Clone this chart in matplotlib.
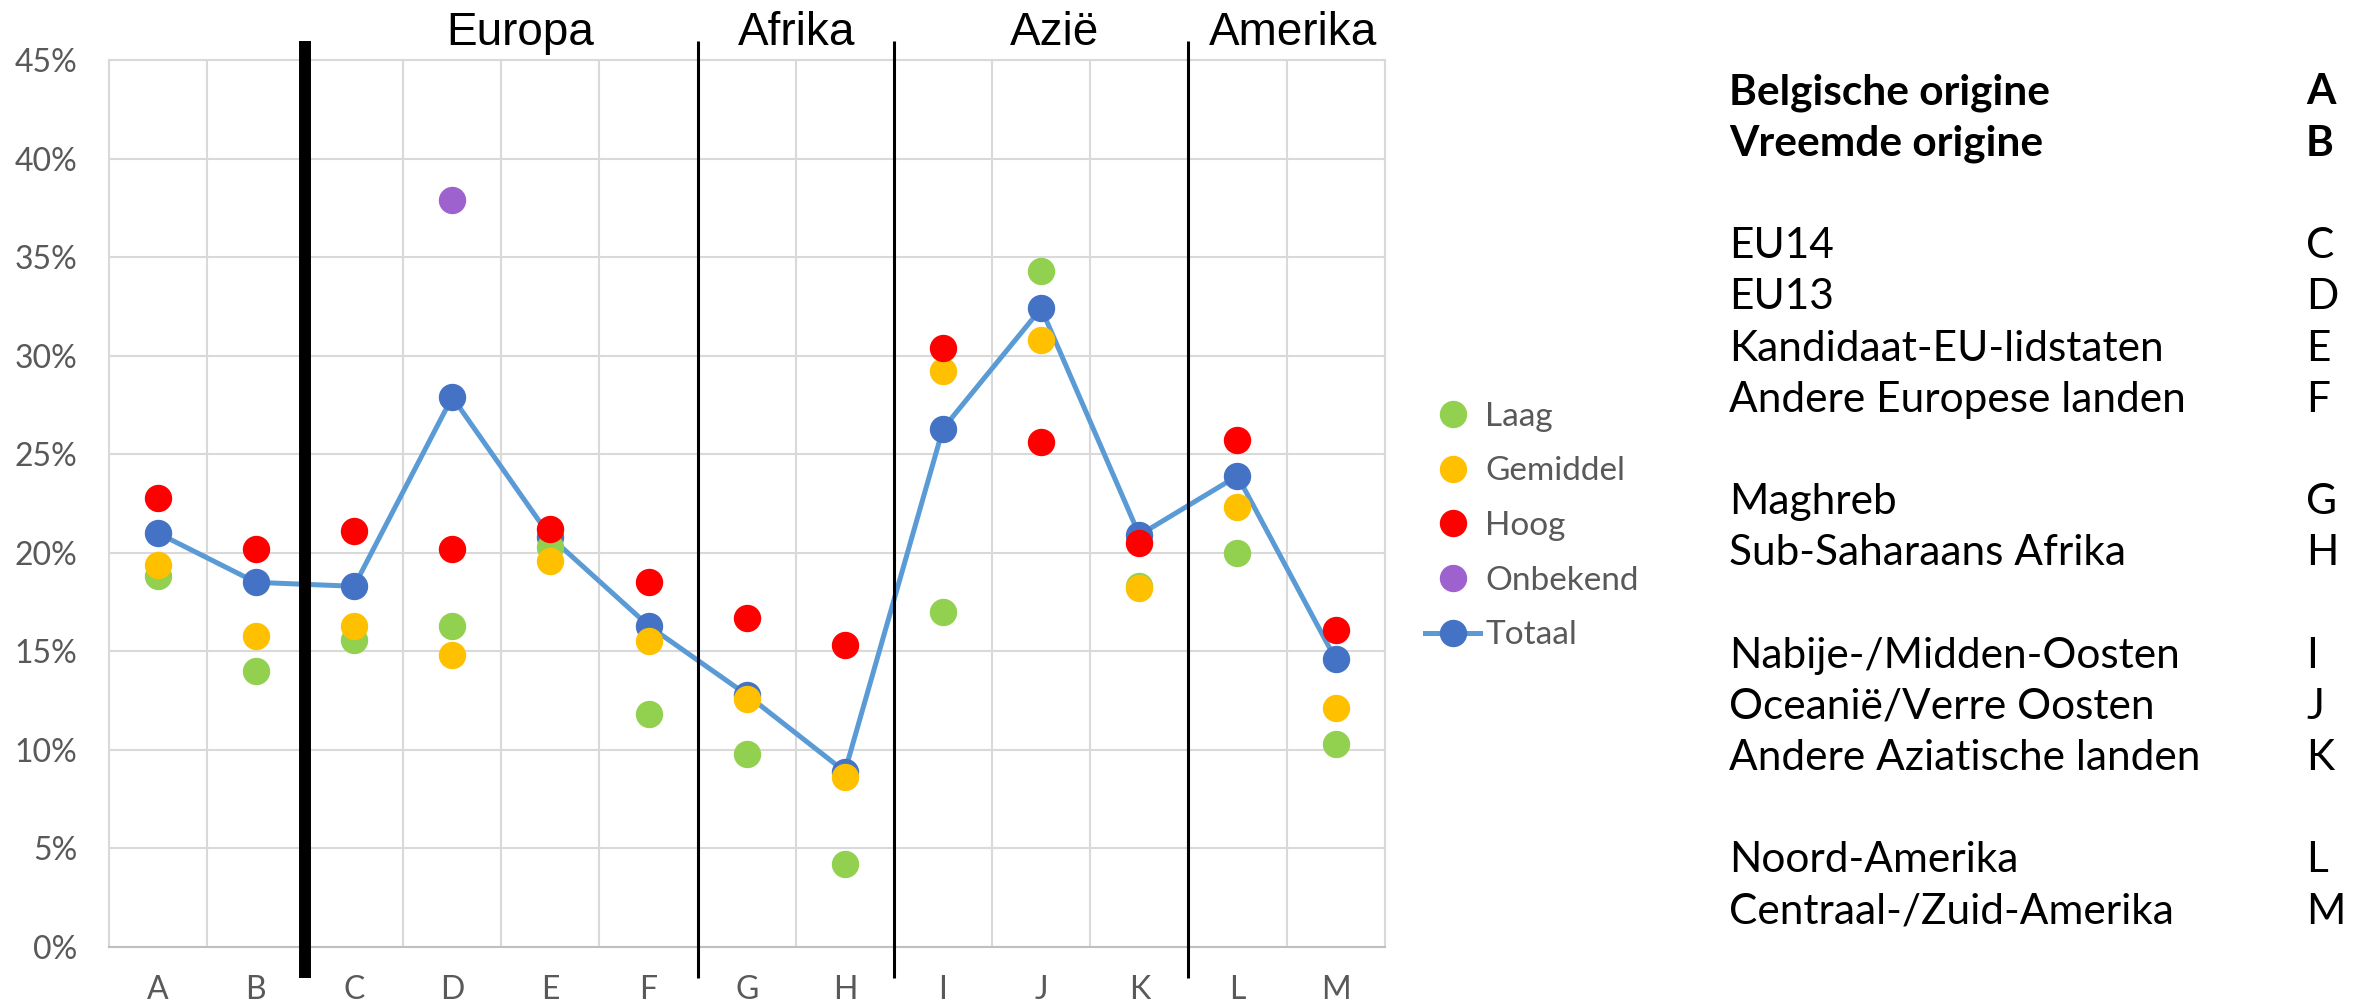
import numpy as np
import matplotlib
matplotlib.use("Agg")
import matplotlib.pyplot as plt
from matplotlib.ticker import MultipleLocator, PercentFormatter

categories = ["A", "B", "C", "D", "E", "F", "G", "H", "I", "J", "K", "L", "M"]

laag = [0.188, 0.140, 0.156, 0.163, 0.203, 0.118, 0.098, 0.042, 0.170, 0.343, 0.183, 0.200, 0.103]
gemiddel = [0.194, 0.158, 0.163, 0.148, 0.196, 0.155, 0.126, 0.086, 0.292, 0.308, 0.182, 0.223, 0.121]
hoog = [0.228, 0.202, 0.211, 0.202, 0.212, 0.185, 0.167, 0.153, 0.304, 0.256, 0.205, 0.257, 0.161]
onbekend = [np.nan, np.nan, np.nan, 0.379, np.nan, np.nan, np.nan, np.nan,
            np.nan, np.nan, np.nan, np.nan, np.nan]
totaal = [0.210, 0.185, 0.183, 0.279, 0.208, 0.163, 0.128, 0.089, 0.263, 0.324, 0.209, 0.239, 0.146]

regions = ["Europa", "Afrika", "Azië", "Amerika"]
region_x = [3.69, 6.51, 9.14, 11.57]
separators = [1.5, 5.5, 7.5, 10.5]
separator_lw = [8.6, 2.2, 2.2, 2.2]

# legend on the right: "" = empty line
origin_names = ["Belgische origine", "Vreemde origine", "",
                "EU14", "EU13", "Kandidaat-EU-lidstaten", "Andere Europese landen", "",
                "Maghreb", "Sub-Saharaans Afrika", "",
                "Nabije-/Midden-Oosten", "Oceanië/Verre Oosten", "Andere Aziatische landen", "",
                "Noord-Amerika", "Centraal-/Zuid-Amerika"]
origin_codes = ["A", "B", "", "C", "D", "E", "F", "", "G", "H", "", "I", "J", "K", "", "L", "M"]
bold_rows = [0, 1]

plt.rcParams['font.family'] = ['Liberation Sans', 'DejaVu Sans']

W, H = 2372, 1001
fig = plt.figure(figsize=(W / 100, H / 100), dpi=100)
ax = fig.add_axes([108.7 / W, 1 - 947 / H, (1384.7 - 108.7) / W, (947 - 60) / H])

x = np.arange(len(categories))
ms = 18.7

l_tot, = ax.plot(x, totaal, color="#5B9BD5", lw=3.6, marker="o", ms=ms,
                 mfc="#4472C4", mec="#4472C4", label="Totaal", zorder=3)
l_laag, = ax.plot(x, laag, ls="none", marker="o", ms=ms, color="#92D050", label="Laag", zorder=4)
l_gem, = ax.plot(x, gemiddel, ls="none", marker="o", ms=ms, color="#FFC000", label="Gemiddel", zorder=5)
l_hoog, = ax.plot(x, hoog, ls="none", marker="o", ms=ms, color="#FF0000", label="Hoog", zorder=6)
l_onb, = ax.plot(x, onbekend, ls="none", marker="o", ms=ms, color="#9E62CE", label="Onbekend", zorder=6)

ax.set_xlim(-0.5, len(categories) - 0.5)
ax.set_ylim(0, 0.45)
ax.yaxis.set_major_locator(MultipleLocator(0.05))
ax.yaxis.set_major_formatter(PercentFormatter(1.0, decimals=0))
ax.set_xticks(x)
ax.set_xticklabels(categories)
ax.set_xticks(np.arange(-0.5, len(categories), 1.0), minor=True)
ax.grid(True, which="major", axis="y", color="#D9D9D9", lw=1.5, zorder=0)
ax.grid(True, which="minor", axis="x", color="#D9D9D9", lw=1.5, zorder=0)
ax.tick_params(which="both", length=0)
ax.tick_params(axis="y", pad=22.8, labelsize=23, labelcolor="#595959")
ax.tick_params(axis="x", pad=20.5, labelsize=23, labelcolor="#595959")
for lab in ax.get_xticklabels() + ax.get_yticklabels():
    lab.set_family("Lato")
for s in ax.spines.values():
    s.set_color("#D9D9D9")
    s.set_linewidth(1.5)
ax.spines["bottom"].set_color("#BFBFBF")
ax.set_axisbelow(True)

for sx, lw in zip(separators, separator_lw):
    ax.axvline(sx, ymin=-0.035, ymax=1.0214, color="black", lw=lw,
               clip_on=False, zorder=10, solid_capstyle="butt")

for name, rx in zip(regions, region_x):
    ax.text(rx, 1.017, name, transform=ax.get_xaxis_transform(), ha="center",
            va="baseline", fontsize=33, color="black")

leg = ax.legend(handles=[l_laag, l_gem, l_hoog, l_onb, l_tot],
                loc="center left", bbox_to_anchor=(1425 / W, 1 - 526 / H),
                bbox_transform=fig.transFigure, frameon=False, borderpad=0,
                borderaxespad=0, handlelength=1.65, handletextpad=0.15,
                labelspacing=0.74, prop={"family": "Lato", "size": 24})
for t in leg.get_texts():
    t.set_color("#595959")

for i, (name, code) in enumerate(zip(origin_names, origin_codes)):
    if not name:
        continue
    yb = 1 - (104.5 + 51.2 * i) / H
    fw = "bold" if i in bold_rows else "normal"
    fig.text(1729 / W, yb, name, family="Lato", fontsize=30.5, fontweight=fw,
             va="baseline", ha="left")
    fig.text(2306 / W, yb, code, family="Lato", fontsize=30.5, fontweight=fw,
             va="baseline", ha="left")

fig.savefig("out.png", dpi=100)
